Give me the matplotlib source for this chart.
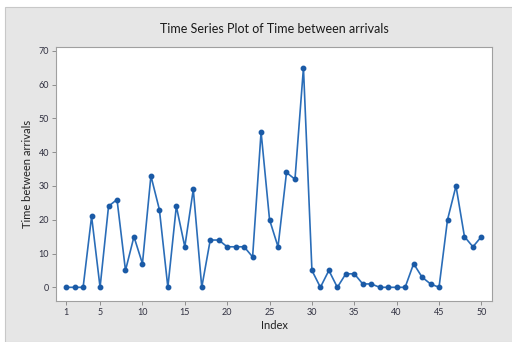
import numpy as np
import matplotlib
matplotlib.use('Agg')
import matplotlib.pyplot as plt
from matplotlib.patches import Rectangle

# Data
index = list(range(1, 51))
time_between = [0, 0, 0, 21, 0, 24, 26, 5, 15, 7,
                33, 23, 0, 24, 12, 29, 0, 14, 14, 12,
                12, 12, 9, 46, 20, 12, 34, 32, 65, 5,
                0, 5, 0, 4, 4, 1, 1, 0, 0, 0,
                0, 7, 3, 1, 0, 20, 30, 15, 12, 15]
x_ticks = [1, 5, 10, 15, 20, 25, 30, 35, 40, 45, 50]
y_ticks = [0, 10, 20, 30, 40, 50, 60, 70]

plt.rcParams['font.family'] = ['Lato', 'DejaVu Sans']

W, H = 512, 342
fig = plt.figure(figsize=(W / 100, H / 100), dpi=100)
fig.patch.set_facecolor('white')

# gray panel behind the plot, like the Minitab graph window
fig.patches.append(Rectangle((5 / W, 0), 1, 1 - 7 / H, transform=fig.transFigure,
                             facecolor='#e6e6e6', edgecolor='#c8c8c8', lw=0.8,
                             zorder=-10))

ax = fig.add_axes([56 / W, 1 - 301 / H, (492 - 56) / W, (301 - 46.5) / H])
ax.set_facecolor('white')

ax.plot(index, time_between, color='#2a6db8', lw=1.2, marker='o', ms=3.2,
        markerfacecolor='#1a5aa6', markeredgecolor='#1a5aa6')

ax.set_xlim(-0.2, 51.25)
ax.set_ylim(-4.05, 71.3)
ax.set_xticks(x_ticks)
ax.set_yticks(y_ticks)
ax.tick_params(axis='both', direction='out', length=3, width=0.6, color='#808080',
               labelsize=6.5, labelcolor='#303040', pad=2)
for sp in ax.spines.values():
    sp.set_color('#a0a0a0')
    sp.set_linewidth(0.8)

ax.set_xlabel('Index', fontsize=8, color='#222222', labelpad=2)
ax.set_ylabel('Time between arrivals', fontsize=8, color='#222222', labelpad=4)
fig.text(274 / W, 1 - 29 / H, 'Time Series Plot of Time between arrivals',
         ha='center', va='center', fontsize=9, color='#1a1a1a')

fig.savefig('out.png', dpi=100)
